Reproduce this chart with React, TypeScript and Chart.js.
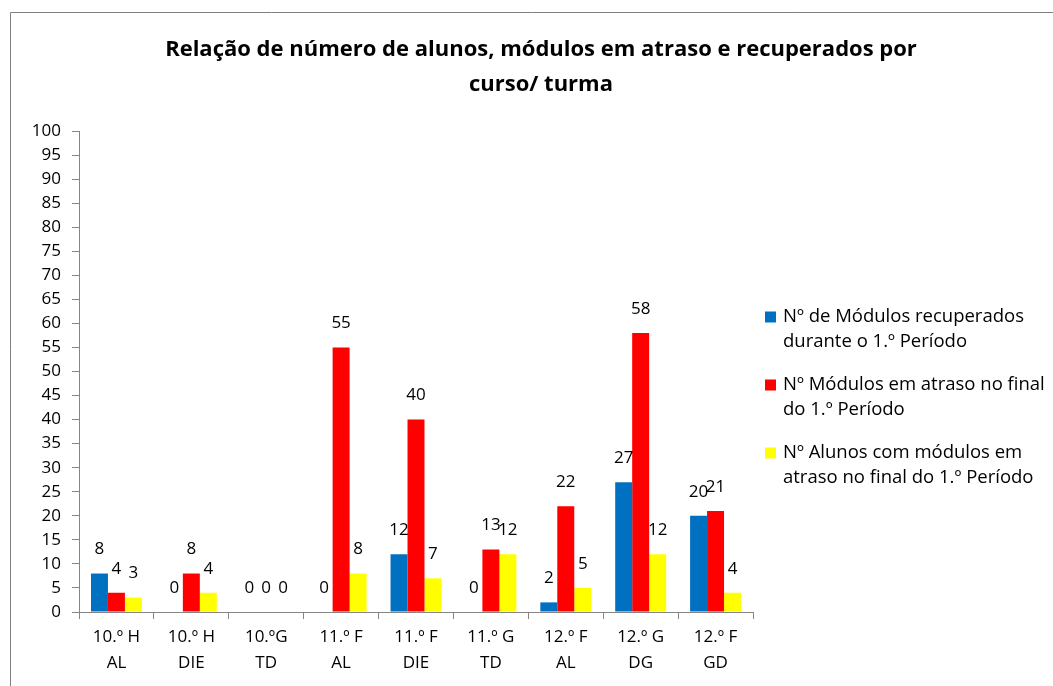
import React, { useEffect, useRef } from "react";
import { Chart, registerables } from "chart.js";

Chart.register(...registerables);

const TITLE_LINES = [
  "Relação de número de alunos, módulos em atraso e recuperados por",
  "curso/ turma",
];
const CATEGORIES = [
  ["10.º H", "AL"],
  ["10.º H", "DIE"],
  ["10.ºG", "TD"],
  ["11.º F", "AL"],
  ["11.º F", "DIE"],
  ["11.º G", "TD"],
  ["12.º F", "AL"],
  ["12.º G", "DG"],
  ["12.º F", "GD"],
];
const SERIES_NAMES = [
  ["Nº de Módulos recuperados", "durante o 1.º Período"],
  ["Nº Módulos em atraso no final", "do 1.º Período"],
  ["Nº Alunos com módulos em", "atraso no final do 1.º Período"],
];
const RECUPERADOS = [8, 0, 0, 0, 12, 0, 2, 27, 20];
const EM_ATRASO = [4, 8, 0, 55, 40, 13, 22, 58, 21];
const ALUNOS_ATRASO = [3, 4, 0, 8, 7, 12, 5, 12, 4];
const SERIES_VALUES = [RECUPERADOS, EM_ATRASO, ALUNOS_ATRASO];
const COLORS = ["#0070C0", "#FF0000", "#FFFF00"];
const Y_MIN = 0;
const Y_MAX = 100;
const Y_STEP = 5;

const FONT = "'Open Sans', 'DejaVu Sans', sans-serif";
const TEXT_COLOR = "#000000";
const AXIS_COLOR = "#868686";

const framePlugin = {
  id: "frameAndTitle",
  beforeDraw(chart: any) {
    const { ctx, width, height } = chart;
    ctx.save();
    ctx.fillStyle = "#ffffff";
    ctx.fillRect(0, 0, width, height);
    ctx.strokeStyle = "#7f7f7f";
    ctx.lineWidth = 1;
    ctx.beginPath();
    ctx.moveTo(10.5, height + 5);
    ctx.lineTo(10.5, 12.5);
    ctx.lineTo(width + 5, 12.5);
    ctx.stroke();
    ctx.restore();
  },
  afterDraw(chart: any) {
    const { ctx } = chart;
    ctx.save();
    ctx.fillStyle = TEXT_COLOR;
    ctx.font = `bold 22px ${FONT}`;
    ctx.textAlign = "center";
    ctx.textBaseline = "middle";
    ctx.fillText(TITLE_LINES[0], 541, 50);
    ctx.fillText(TITLE_LINES[1], 541, 85);
    ctx.restore();
  },
};

const dataLabelPlugin = {
  id: "dataLabels",
  afterDatasetsDraw(chart: any) {
    const { ctx } = chart;
    ctx.save();
    ctx.fillStyle = TEXT_COLOR;
    ctx.font = `17px ${FONT}`;
    ctx.textAlign = "center";
    ctx.textBaseline = "middle";
    chart.data.datasets.forEach((ds: any, di: number) => {
      const meta = chart.getDatasetMeta(di);
      meta.data.forEach((el: any, i: number) => {
        ctx.fillText(String(ds.data[i]), el.x, el.y - 24);
      });
    });
    ctx.restore();
  },
};

const legendPlugin = {
  id: "customLegend",
  afterDraw(chart: any) {
    const { ctx, chartArea } = chart;
    ctx.save();
    ctx.font = `18.5px ${FONT}`;
    ctx.textAlign = "left";
    ctx.textBaseline = "middle";
    const x = chartArea.right + 12;
    SERIES_NAMES.forEach((lines, i) => {
      const y = 317 + i * 68;
      ctx.fillStyle = COLORS[i];
      ctx.fillRect(x, y - 5.5, 11, 11);
      ctx.fillStyle = TEXT_COLOR;
      lines.forEach((line, j) => {
        ctx.fillText(line, x + 18, y + j * 25);
      });
    });
    ctx.restore();
  },
};

export default function App() {
  const canvasRef = useRef<HTMLCanvasElement | null>(null);

  useEffect(() => {
    if (!canvasRef.current) return;
    const chart = new Chart(canvasRef.current, {
      type: "bar",
      data: {
        labels: CATEGORIES,
        datasets: SERIES_VALUES.map((vals, i) => ({
          label: SERIES_NAMES[i].join(" "),
          data: vals,
          backgroundColor: COLORS[i],
          borderWidth: 0,
          categoryPercentage: 0.68,
          barPercentage: 1.0,
        })),
      },
      options: {
        responsive: false,
        animation: false,
        layout: { padding: { left: 10, right: 300, top: 131, bottom: 0 } },
        plugins: {
          legend: { display: false },
          title: { display: false },
          tooltip: { enabled: false },
        },
        scales: {
          x: {
            afterFit(scale: any) {
              scale.height = 74;
            },
            grid: {
              display: true,
              offset: true,
              drawOnChartArea: false,
              drawTicks: true,
              tickLength: 7,
              color: AXIS_COLOR,
            },
            border: { display: true, color: AXIS_COLOR },
            ticks: {
              color: TEXT_COLOR,
              font: { family: FONT, size: 17, lineHeight: 1.55 },
              padding: 5,
              maxRotation: 0,
              autoSkip: false,
            },
          },
          y: {
            min: Y_MIN,
            max: Y_MAX,
            afterFit(scale: any) {
              scale.width = 69;
            },
            grid: {
              display: true,
              drawOnChartArea: false,
              drawTicks: true,
              tickLength: 7,
              color: AXIS_COLOR,
            },
            border: { display: true, color: AXIS_COLOR },
            ticks: {
              stepSize: Y_STEP,
              color: TEXT_COLOR,
              font: { family: FONT, size: 17 },
              padding: 11,
              autoSkip: false,
            },
          },
        },
      },
      plugins: [framePlugin, dataLabelPlugin, legendPlugin],
    });
    return () => chart.destroy();
  }, []);

  return (
    <div style={{ position: "absolute", left: 0, top: 0, width: 1053, height: 686 }}>
      <canvas ref={canvasRef} width={1053} height={686} />
    </div>
  );
}
